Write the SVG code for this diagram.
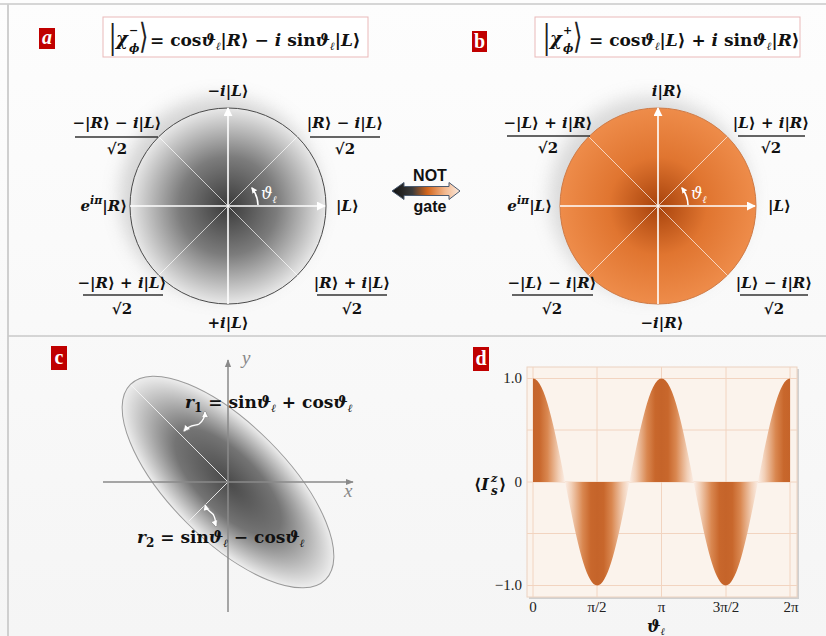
<svg xmlns="http://www.w3.org/2000/svg" width="826" height="636" viewBox="0 0 826 636">
<defs>
<style>
.m{font-family:"DejaVu Serif","Liberation Serif",serif;font-weight:bold;fill:#111}
.l{font-size:15px}
.it{font-style:italic}
.big{font-family:"Liberation Serif","DejaVu Serif",serif;font-weight:normal;fill:#222}
.lbl{font-family:"Liberation Serif","DejaVu Serif",serif;font-weight:bold;fill:#fff;font-size:20px;text-anchor:middle}
.box{fill:#c00000}
.frac{stroke:#333;stroke-width:1.4}
.wl{stroke:#fff;stroke-width:1.6;fill:none}
.wd{stroke:#fff;stroke-width:0.8;fill:none;opacity:0.85}
.ax{stroke:#8a8a8a;stroke-width:1.5;fill:none}
.tick{font-family:"Liberation Serif","DejaVu Serif",serif;font-size:15px;fill:#222}
.grid{stroke:#f2d4c0;stroke-width:1}
.eqbox{fill:#fff;stroke:#eab9b9;stroke-width:1}
.nt{font-family:"Liberation Sans",Arial,sans-serif;font-weight:bold;font-size:16px;fill:#111;text-anchor:middle}
</style>
<linearGradient id="bg" x1="0" y1="0" x2="0" y2="1">
<stop offset="0" stop-color="#fdfdfd"/><stop offset="1" stop-color="#f5f5f5"/>
</linearGradient>
<radialGradient id="gA" cx="0.5" cy="0.5" r="0.5">
<stop offset="0" stop-color="#3a3a3a"/><stop offset="0.5" stop-color="#7c7c7c"/><stop offset="1" stop-color="#e8e8e8"/>
</radialGradient>
<radialGradient id="gB" cx="0.5" cy="0.5" r="0.5">
<stop offset="0" stop-color="#a8430c"/><stop offset="0.5" stop-color="#e07530"/><stop offset="1" stop-color="#ee8c4a"/>
</radialGradient>
<radialGradient id="gE" cx="0.5" cy="0.5" r="0.5">
<stop offset="0" stop-color="#4a4a4a"/><stop offset="0.5" stop-color="#747474"/><stop offset="1" stop-color="#eeeeee"/>
</radialGradient>
<linearGradient id="gN" x1="0" y1="0" x2="1" y2="0">
<stop offset="0" stop-color="#111"/><stop offset="0.3" stop-color="#3b3b3b"/><stop offset="0.52" stop-color="#d2651c"/><stop offset="0.78" stop-color="#f2b88e"/><stop offset="1" stop-color="#fbe9dd"/>
</linearGradient>
<linearGradient id="gW" gradientUnits="userSpaceOnUse" x1="565.1" y1="0" x2="597.25" y2="0" spreadMethod="reflect">
<stop offset="0" stop-color="#fbeee6"/><stop offset="0.2" stop-color="#f2cfb6"/><stop offset="0.55" stop-color="#d98750"/><stop offset="0.8" stop-color="#c8672c"/><stop offset="1" stop-color="#c5642a"/>
</linearGradient>
<filter id="sh" x="-30%" y="-30%" width="160%" height="160%"><feGaussianBlur stdDeviation="9"/></filter>
<marker id="wa" viewBox="0 0 10 10" refX="9" refY="5" markerWidth="9" markerHeight="9" markerUnits="userSpaceOnUse" orient="auto"><path d="M0,0 L10,5 L0,10 Z" fill="#fff"/></marker>
<marker id="wsm" viewBox="0 0 10 10" refX="8" refY="5" markerWidth="6" markerHeight="6" markerUnits="userSpaceOnUse" orient="auto"><path d="M0,0 L10,5 L0,10 Z" fill="#fff"/></marker>
<marker id="ga" viewBox="0 0 10 10" refX="9" refY="5" markerWidth="8" markerHeight="8" markerUnits="userSpaceOnUse" orient="auto"><path d="M0,1 L10,5 L0,9 Z" fill="#8a8a8a"/></marker>
<marker id="da" viewBox="0 0 10 10" refX="8" refY="5" markerWidth="7" markerHeight="7" markerUnits="userSpaceOnUse" orient="auto-start-reverse"><path d="M0,0 L10,5 L0,10 Z" fill="#fff" stroke="#888" stroke-width="1"/></marker>
</defs>

<rect x="0" y="0" width="826" height="636" fill="url(#bg)"/>
<line x1="0" y1="4" x2="826" y2="4" stroke="#d6d6d6" stroke-width="2"/>
<line x1="8" y1="4" x2="8" y2="636" stroke="#cfcfcf" stroke-width="2"/>
<line x1="8" y1="336" x2="826" y2="336" stroke="#c9c9c9" stroke-width="1.5"/>

<!-- Panel a -->
<g id="panel-a">
<rect class="box" x="39" y="28" width="16" height="21"/>
<text class="lbl it" x="47" y="44">a</text>
<g id="eq-a">
<rect class="eqbox" x="103" y="17" width="265" height="40"/>
<text class="big" x="109" y="48" font-size="36">|</text>
<text class="m it" x="116" y="45" font-size="18">χ</text>
<text class="m it" x="129" y="52" font-size="11">ϕ</text>
<text class="m" x="129" y="34" font-size="11">−</text>
<text class="big" x="0" y="0" font-size="24" transform="translate(139,48) scale(1,1.45)">⟩</text>
<text class="m" x="150" y="46" font-size="17">= cos<tspan class="it">ϑ</tspan><tspan font-size="11" dy="4" class="it">ℓ</tspan><tspan dy="-4">|</tspan><tspan class="it">R</tspan>⟩ − <tspan class="it">i</tspan> sin<tspan class="it">ϑ</tspan><tspan font-size="11" dy="4" class="it">ℓ</tspan><tspan dy="-4">|</tspan><tspan class="it">L</tspan>⟩</text>
</g>
<g id="circle-a">
<circle cx="220" cy="197" r="100" fill="#9a9a9a" opacity="0.4" filter="url(#sh)"/>
<circle cx="228" cy="206" r="98" fill="url(#gA)" stroke="#4a4a4a" stroke-width="1"/>
<line class="wd" x1="158.7" y1="136.7" x2="297.3" y2="275.3"/>
<line class="wd" x1="158.7" y1="275.3" x2="297.3" y2="136.7"/>
<line class="wl" x1="130" y1="206" x2="325" y2="206" marker-end="url(#wa)"/>
<line class="wl" x1="228" y1="304" x2="228" y2="108" marker-end="url(#wa)"/>
<path class="wl" d="M258,205 A30,30 0 0 0 252,188" stroke-width="1.3" marker-end="url(#wsm)"/>
<text x="261" y="199" font-family="DejaVu Serif,Liberation Serif,serif" font-style="italic" font-size="16" fill="#fff">ϑ<tspan font-size="10" dy="4">ℓ</tspan></text>
</g>
<g id="labels-a" class="m l">
<text x="228" y="96" text-anchor="middle">−<tspan class="it">i</tspan>|<tspan class="it">L</tspan>⟩</text>
<text x="117" y="128" text-anchor="middle">−|<tspan class="it">R</tspan>⟩ − <tspan class="it">i</tspan>|<tspan class="it">L</tspan>⟩</text>
<line class="frac" x1="75" y1="137" x2="158" y2="137"/>
<text x="117" y="154" text-anchor="middle">√2</text>
<text x="345" y="128" text-anchor="middle">|<tspan class="it">R</tspan>⟩ − <tspan class="it">i</tspan>|<tspan class="it">L</tspan>⟩</text>
<line class="frac" x1="310" y1="137" x2="380" y2="137"/>
<text x="345" y="154" text-anchor="middle">√2</text>
<text x="127" y="211" text-anchor="end"><tspan class="it">e</tspan><tspan class="it" font-size="11" dy="-7">iπ</tspan><tspan dy="7">|</tspan><tspan class="it">R</tspan>⟩</text>
<text x="336" y="211">|<tspan class="it">L</tspan>⟩</text>
<text x="122" y="288" text-anchor="middle">−|<tspan class="it">R</tspan>⟩ + <tspan class="it">i</tspan>|<tspan class="it">L</tspan>⟩</text>
<line class="frac" x1="83" y1="295" x2="163" y2="295"/>
<text x="122" y="314" text-anchor="middle">√2</text>
<text x="352" y="288" text-anchor="middle">|<tspan class="it">R</tspan>⟩ + <tspan class="it">i</tspan>|<tspan class="it">L</tspan>⟩</text>
<line class="frac" x1="317" y1="295" x2="387" y2="295"/>
<text x="352" y="314" text-anchor="middle">√2</text>
<text x="228" y="328" text-anchor="middle">+<tspan class="it">i</tspan>|<tspan class="it">L</tspan>⟩</text>
</g>
</g>

<!-- NOT gate -->
<g id="connectors">
<g id="not-gate">
<path d="M392,191 L404,182.5 L404,186.5 L449,186.5 L449,182.5 L460,191 L449,199.5 L449,195.5 L404,195.5 L404,199.5 Z" fill="url(#gN)" stroke="#4a5a70" stroke-width="1"/>
<text class="nt" x="430" y="181">NOT</text>
<text class="nt" x="430" y="212">gate</text>
</g>
</g>

<!-- Panel b -->
<g id="panel-b">
<rect class="box" x="472" y="31" width="15" height="21"/>
<text class="lbl" x="479.5" y="48">b</text>
<g id="eq-b">
<rect class="eqbox" x="535" y="17" width="265" height="40"/>
<text class="big" x="543" y="48" font-size="36">|</text>
<text class="m it" x="550" y="45" font-size="18">χ</text>
<text class="m it" x="563" y="52" font-size="11">ϕ</text>
<text class="m" x="563" y="34" font-size="11">+</text>
<text class="big" x="0" y="0" font-size="24" transform="translate(573,48) scale(1,1.45)">⟩</text>
<text class="m" x="589" y="46" font-size="17">= cos<tspan class="it">ϑ</tspan><tspan font-size="11" dy="4" class="it">ℓ</tspan><tspan dy="-4">|</tspan><tspan class="it">L</tspan>⟩ + <tspan class="it">i</tspan> sin<tspan class="it">ϑ</tspan><tspan font-size="11" dy="4" class="it">ℓ</tspan><tspan dy="-4">|</tspan><tspan class="it">R</tspan>⟩</text>
</g>
<g id="circle-b">
<circle cx="650" cy="197" r="100" fill="#9a9a9a" opacity="0.35" filter="url(#sh)"/>
<circle cx="658" cy="206" r="98" fill="url(#gB)" stroke="#cf7a45" stroke-width="1"/>
<line class="wd" x1="588.7" y1="136.7" x2="727.3" y2="275.3"/>
<line class="wd" x1="588.7" y1="275.3" x2="727.3" y2="136.7"/>
<line class="wl" x1="560" y1="206" x2="755" y2="206" marker-end="url(#wa)"/>
<line class="wl" x1="658" y1="304" x2="658" y2="108" marker-end="url(#wa)"/>
<path class="wl" d="M688,205 A30,30 0 0 0 682,188" stroke-width="1.3" marker-end="url(#wsm)"/>
<text x="691" y="199" font-family="DejaVu Serif,Liberation Serif,serif" font-style="italic" font-size="16" fill="#fff">ϑ<tspan font-size="10" dy="4">ℓ</tspan></text>
</g>
<g id="labels-b" class="m l">
<text x="667" y="96" text-anchor="middle"><tspan class="it">i</tspan>|<tspan class="it">R</tspan>⟩</text>
<text x="548" y="128" text-anchor="middle">−|<tspan class="it">L</tspan>⟩ + <tspan class="it">i</tspan>|<tspan class="it">R</tspan>⟩</text>
<line class="frac" x1="507" y1="136" x2="590" y2="136"/>
<text x="548" y="153" text-anchor="middle">√2</text>
<text x="771" y="128" text-anchor="middle">|<tspan class="it">L</tspan>⟩ + <tspan class="it">i</tspan>|<tspan class="it">R</tspan>⟩</text>
<line class="frac" x1="738" y1="136" x2="805" y2="136"/>
<text x="771" y="153" text-anchor="middle">√2</text>
<text x="552" y="211" text-anchor="end"><tspan class="it">e</tspan><tspan class="it" font-size="11" dy="-7">iπ</tspan><tspan dy="7">|</tspan><tspan class="it">L</tspan>⟩</text>
<text x="768" y="211">|<tspan class="it">L</tspan>⟩</text>
<text x="552" y="288" text-anchor="middle">−|<tspan class="it">L</tspan>⟩ − <tspan class="it">i</tspan>|<tspan class="it">R</tspan>⟩</text>
<line class="frac" x1="512" y1="295" x2="593" y2="295"/>
<text x="552" y="314" text-anchor="middle">√2</text>
<text x="774" y="288" text-anchor="middle">|<tspan class="it">L</tspan>⟩ − <tspan class="it">i</tspan>|<tspan class="it">R</tspan>⟩</text>
<line class="frac" x1="740" y1="295" x2="808" y2="295"/>
<text x="774" y="314" text-anchor="middle">√2</text>
<text x="662" y="328" text-anchor="middle">−<tspan class="it">i</tspan>|<tspan class="it">R</tspan>⟩</text>
</g>
</g>

<!-- Panel c -->
<g id="panel-c">
<rect class="box" x="51" y="346" width="16" height="24"/>
<text class="lbl" x="59" y="364">c</text>
<ellipse cx="0" cy="0" rx="138" ry="58" transform="translate(228,482) rotate(45)" fill="url(#gE)" stroke="#9a9a9a" stroke-width="1"/>
<line x1="228" y1="482" x2="131" y2="385" stroke="#f4f4f4" stroke-width="0.9"/>
<line x1="228" y1="482" x2="189" y2="521" stroke="#f4f4f4" stroke-width="0.9"/>
<line class="ax" x1="103" y1="482" x2="353" y2="482" marker-end="url(#ga)"/>
<line class="ax" x1="228" y1="612" x2="228" y2="360" marker-end="url(#ga)"/>
<text x="242" y="364" font-family="Liberation Serif,DejaVu Serif,serif" font-style="italic" font-size="19" fill="#888">y</text>
<text x="344" y="497" font-family="Liberation Serif,DejaVu Serif,serif" font-style="italic" font-size="19" fill="#888">x</text>
<path d="M184,431 C190,424 196,426 199,424 C203,421 205,418 205,412" fill="none" stroke="#888" stroke-width="2.6" marker-start="url(#da)" marker-end="url(#da)"/>
<path d="M184,431 C190,424 196,426 199,424 C203,421 205,418 205,412" fill="none" stroke="#fff" stroke-width="1.4"/>
<path d="M205,505 C207,512 213,512 214,516 C216,520 215,523 216,526" fill="none" stroke="#888" stroke-width="2.6" marker-start="url(#da)" marker-end="url(#da)"/>
<path d="M205,505 C207,512 213,512 214,516 C216,520 215,523 216,526" fill="none" stroke="#fff" stroke-width="1.4"/>
<text class="m" x="185" y="408" font-size="17"><tspan class="it">r</tspan><tspan font-size="12" dy="4">1</tspan><tspan dy="-4"> = sin</tspan><tspan class="it">ϑ</tspan><tspan class="it" font-size="11" dy="4">ℓ</tspan><tspan dy="-4"> + cos</tspan><tspan class="it">ϑ</tspan><tspan class="it" font-size="11" dy="4">ℓ</tspan></text>
<text class="m" x="137" y="543" font-size="17"><tspan class="it">r</tspan><tspan font-size="12" dy="4">2</tspan><tspan dy="-4"> = sin</tspan><tspan class="it">ϑ</tspan><tspan class="it" font-size="11" dy="4">ℓ</tspan><tspan dy="-4"> − cos</tspan><tspan class="it">ϑ</tspan><tspan class="it" font-size="11" dy="4">ℓ</tspan></text>
</g>

<!-- Panel d -->
<g id="panel-d">
<rect class="box" x="473" y="347" width="16" height="24"/>
<text class="lbl" x="481" y="365">d</text>
<rect x="529" y="369" width="270" height="230" fill="#b8b8b8" opacity="0.6"/>
<rect x="527" y="367" width="270" height="230" fill="#fbf3ec" stroke="#ecd2c0" stroke-width="1"/>
<g>
<line class="grid" x1="533" y1="367" x2="533" y2="597"/>
<line class="grid" x1="597" y1="367" x2="597" y2="597"/>
<line class="grid" x1="661.5" y1="367" x2="661.5" y2="597"/>
<line class="grid" x1="726" y1="367" x2="726" y2="597"/>
<line class="grid" x1="790" y1="367" x2="790" y2="597"/>
<line class="grid" x1="527" y1="378.5" x2="797" y2="378.5"/>
<line class="grid" x1="527" y1="430" x2="797" y2="430"/>
<line class="grid" x1="527" y1="482" x2="797" y2="482"/>
<line class="grid" x1="527" y1="533.5" x2="797" y2="533.5"/>
<line class="grid" x1="527" y1="585.5" x2="797" y2="585.5"/>
</g>
<path d="M533,482 L533,378.5 C544.6,378.5 554.7,429 565.1,482 C575.6,535 585.6,585.5 597.25,585.5 C608.9,585.5 618.9,535 629.4,482 C639.9,429 649.9,378.5 661.5,378.5 C673.1,378.5 683.2,429 693.6,482 C704.1,535 714.1,585.5 725.75,585.5 C737.4,585.5 747.4,535 757.9,482 C768.4,429 778.4,378.5 790,378.5 L790,482 Z" fill="url(#gW)"/>
<text class="tick" x="522" y="383" text-anchor="end">1.0</text>
<text class="tick" x="522" y="487" text-anchor="end">0</text>
<text class="tick" x="522" y="590" text-anchor="end">−1.0</text>
<text class="m" x="474" y="490" font-size="16">⟨<tspan class="it">I</tspan></text>
<text class="m it" x="491" y="482" font-size="11">z</text>
<text class="m it" x="491" y="495" font-size="12">s</text>
<text class="m" x="499" y="490" font-size="16">⟩</text>
<text class="tick" x="533" y="612" text-anchor="middle">0</text>
<text class="tick" x="597" y="612" text-anchor="middle">π/2</text>
<text class="tick" x="661.5" y="612" text-anchor="middle">π</text>
<text class="tick" x="726" y="612" text-anchor="middle">3π/2</text>
<text class="tick" x="791" y="612" text-anchor="middle">2π</text>
<text class="m it" x="656" y="632" font-size="16" text-anchor="middle">ϑ<tspan font-size="10" dy="3">ℓ</tspan></text>
</g>
</svg>
